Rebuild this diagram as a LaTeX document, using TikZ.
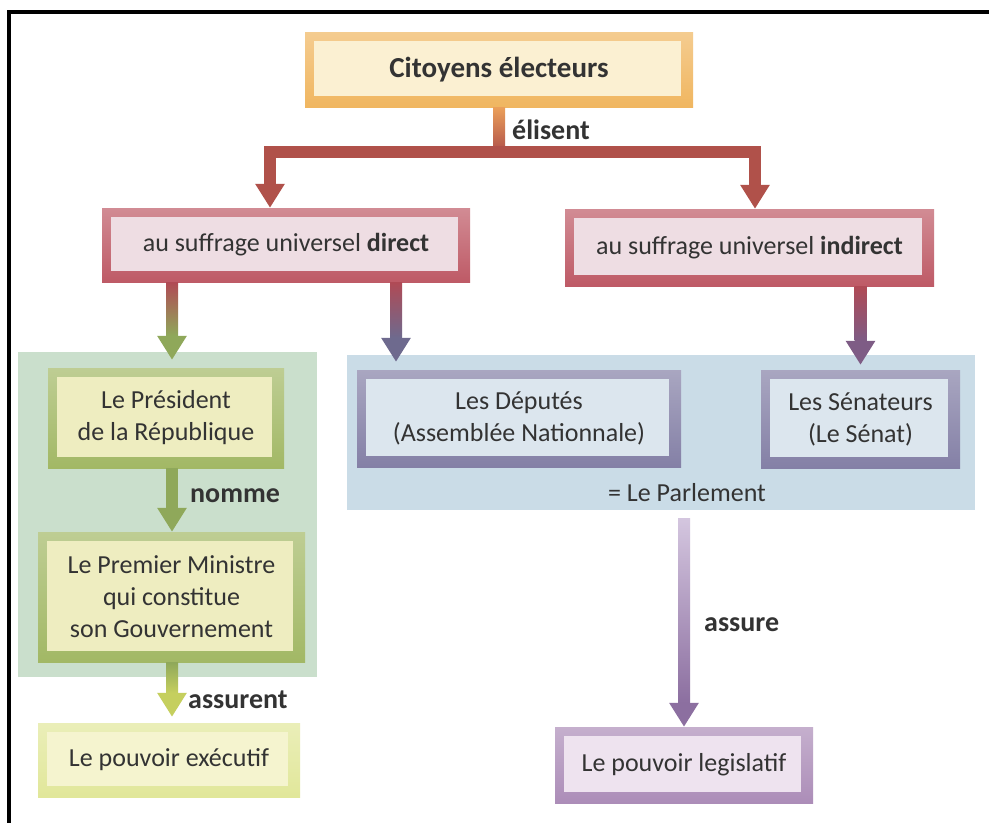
\documentclass[tikz,border=0pt]{standalone}
\usepackage{fontspec}
\setmainfont{Carlito}
\usetikzlibrary{arrows.meta,calc}
\definecolor{citO}{HTML}{F0B660}
\definecolor{citI}{HTML}{FBF0D2}
\definecolor{dirO}{HTML}{BE5A66}
\definecolor{dirI}{HTML}{EEDDE3}
\definecolor{presO}{HTML}{A2B865}
\definecolor{presI}{HTML}{EEEDC0}
\definecolor{exeO}{HTML}{E1E79A}
\definecolor{exeI}{HTML}{F5F4CF}
\definecolor{depO}{HTML}{8480A6}
\definecolor{depI}{HTML}{DCE6EE}
\definecolor{legO}{HTML}{AC8DB8}
\definecolor{legI}{HTML}{EEE3EF}
\definecolor{greenP}{HTML}{CADFCC}
\definecolor{blueP}{HTML}{CADCE7}
\definecolor{txt}{HTML}{333333}
\definecolor{treeC}{HTML}{B0514A}
\definecolor{orangeC}{HTML}{EBA05A}
\definecolor{redC}{HTML}{B04A55}
\definecolor{greenC}{HTML}{8FA85A}
\definecolor{slateC}{HTML}{6E6A8E}
\definecolor{purpC}{HTML}{7E5C85}
\definecolor{lavC}{HTML}{D4C6DF}
\definecolor{violC}{HTML}{8C6FA0}
\definecolor{ygC}{HTML}{C5CF5E}
\begin{document}
\begin{tikzpicture}[x=1pt,y=-1pt,
  frame/.style 2 args={top color=#1!70!white, bottom color=#1, inner sep=0pt, path picture={\fill[#2] ([shift={(9pt,-9pt)}]path picture bounding box.north west) rectangle ([shift={(-12pt,11pt)}]path picture bounding box.south east);}},
  boxtxt/.style={font=\fontsize{26}{32}\selectfont, text=txt, align=center},
  lbl/.style={font=\fontsize{28}{30}\selectfont\bfseries, text=txt, inner sep=0pt, anchor=west},
  panel/.style={fill=#1, inner sep=0pt},
  arr/.style={line width=12pt, -{Triangle[width=28pt,length=24pt]}, draw=#1},
  shaft/.style={line width=12pt, draw=#1}
]
\useasboundingbox (0,0) rectangle (989,823);
\fill[white] (0,0) rectangle (989,823);
% black frame
\draw[line width=4.5pt] (7,12) -- (989,12);
\draw[line width=4.5pt] (9,10) -- (9,823);

% panels
\node[panel=greenP, minimum width=299pt, minimum height=325pt] (gov) at (167.5,514.5) {};
\node[panel=blueP, minimum width=628pt, minimum height=155pt] (parl) at (661,432.5) {};

% boxes
\node[frame={citO}{citI}, boxtxt, minimum width=388pt, minimum height=75pt] (cit) at (499,69.5) {\fontsize{29}{32}\selectfont\bfseries Citoyens électeurs};
\node[frame={dirO}{dirI}, boxtxt, minimum width=368pt, minimum height=74pt] (dir) at (286,245) {au suffrage universel \textbf{direct}};
\node[frame={dirO}{dirI}, boxtxt, minimum width=369pt, minimum height=77pt] (ind) at (749.5,247.5) {au suffrage universel \textbf{indirect}};
\node[frame={presO}{presI}, boxtxt, minimum width=236pt, minimum height=100pt] (pres) at (166,418) {Le Président\\de la République};
\node[frame={presO}{presI}, boxtxt, minimum width=267pt, minimum height=130pt] (pm) at (171.5,597) {Le Premier Ministre\\qui constitue\\son Gouvernement};
\node[frame={exeO}{exeI}, boxtxt, minimum width=262pt, minimum height=74pt] (exe) at (169,760) {Le pouvoir exécutif};
\node[frame={depO}{depI}, boxtxt, minimum width=324pt, minimum height=97pt] (dep) at (519,418.5) {Les Députés\\(Assemblée Nationnale)};
\node[frame={depO}{depI}, boxtxt, minimum width=199pt, minimum height=98pt] (sen) at (860.5,419) {Les Sénateurs\\(Le Sénat)};
\node[frame={legO}{legI}, boxtxt, minimum width=258pt, minimum height=76pt] (leg) at (684,765) {Le pouvoir legislatif};
\node[boxtxt, inner sep=0pt] (parltxt) at (687,493) {= Le Parlement};

% coordinates
\coordinate (jL) at (270,152);
\coordinate (jR) at (755,152);
\coordinate (lc) at (172,0);
\coordinate (dc) at (396,0);

% tree from citizens
\draw[shaft=treeC] (cit.south) -- (cit.south |- jL);
\shade[top color=orangeC, bottom color=treeC] ($(cit.south)+(-6pt,0)$) rectangle ($(cit.south |- jL)+(6pt,0)$);
\draw[line width=12pt, draw=treeC, {Triangle[width=28pt,length=24pt]}-{Triangle[width=28pt,length=24pt]}]
  (dir.north -| jL) -- (jL) -- (jR) -- (ind.north -| jR);

% direct -> president
\draw[arr=greenC] (dir.south -| lc) -- ([yshift=8pt]pres.north -| lc);
\shade[top color=redC, bottom color=greenC] ($(dir.south -| lc)+(-6pt,0)$) rectangle ($([yshift=8pt]pres.north -| lc)+(6pt,24pt)$);
% direct -> deputes
\draw[arr=slateC] (dir.south -| dc) -- ([yshift=8pt]dep.north -| dc);
\shade[top color=redC, bottom color=slateC] ($(dir.south -| dc)+(-6pt,0)$) rectangle ($([yshift=8pt]dep.north -| dc)+(6pt,24pt)$);
% indirect -> senateurs
\draw[arr=purpC] (ind.south -| sen.north) -- ([yshift=5pt]sen.north);
\shade[top color=redC, bottom color=purpC] ($(ind.south -| sen.north)+(-6pt,0)$) rectangle ($([yshift=5pt]sen.north)+(6pt,24pt)$);
% nomme
\draw[arr=greenC] (pres.south -| lc) -- (pm.north -| lc);
\node[lbl] (nomme) at (190,496) {nomme};
% assurent
\draw[arr=ygC] (pm.south -| lc) -- ([yshift=6pt]exe.north -| lc);
\shade[top color=greenC, bottom color=ygC] ($(pm.south -| lc)+(-6pt,0)$) rectangle ($([yshift=6pt]exe.north -| lc)+(6pt,24pt)$);
\node[lbl] (assurent) at (188,700) {assurent};
% assure
\draw[arr=violC] ([yshift=-8pt]parl.south -| leg.north) -- (leg.north);
\shade[top color=lavC, bottom color=violC] ($([yshift=-8pt]parl.south -| leg.north)+(-6pt,0)$) rectangle ($(leg.north)+(6pt,24pt)$);
\node[lbl] (assure) at (704,625) {assure};
% elisent
\node[lbl] (elisent) at (512,130) {élisent};
\end{tikzpicture}
\end{document}
